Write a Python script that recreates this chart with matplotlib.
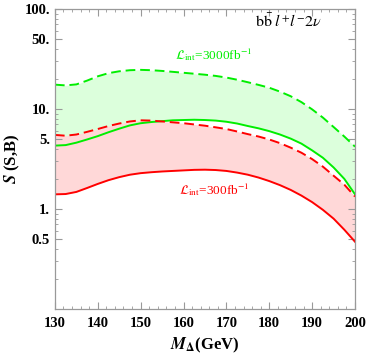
import numpy as np
import matplotlib
matplotlib.use('Agg')
import matplotlib.pyplot as plt
from matplotlib.ticker import FixedLocator, FixedFormatter, LogLocator, MultipleLocator, NullFormatter

plt.rcParams['font.family'] = ['Liberation Serif', 'DejaVu Serif']
plt.rcParams['mathtext.fontset'] = 'stix'

# M_Delta (GeV)
mass = [130, 132.5, 135, 137.5, 140, 142.5, 145, 147.5, 150, 152.5, 155, 157.5, 160, 162.5,
        165, 167.5, 170, 172.5, 175, 177.5, 180, 182.5, 185, 187.5, 190, 192.5, 195, 197.5, 200]

# significance curves
green_dashed = [17.5, 17.2, 17.6, 19.2, 21.2, 22.8, 23.8, 24.4, 24.6, 24.4, 24.0, 23.5, 23.0, 22.5,
                22.0, 21.4, 20.6, 19.6, 18.5, 17.4, 16.3, 14.9, 13.4, 11.7, 9.9, 8.2, 6.6, 5.3, 4.2]
green_solid = [4.3, 4.35, 4.6, 4.95, 5.35, 5.85, 6.35, 6.85, 7.2, 7.4, 7.55, 7.7, 7.75, 7.8,
               7.75, 7.65, 7.45, 7.15, 6.75, 6.4, 6.0, 5.55, 5.05, 4.5, 3.85, 3.25, 2.6, 2.0, 1.4]
red_dashed = [5.5, 5.4, 5.55, 5.9, 6.3, 6.75, 7.15, 7.5, 7.7, 7.65, 7.5, 7.35, 7.2, 7.0,
              6.8, 6.55, 6.3, 5.95, 5.6, 5.3, 4.95, 4.55, 4.1, 3.65, 3.15, 2.65, 2.15, 1.75, 1.33]
red_solid = [1.40, 1.41, 1.48, 1.62, 1.78, 1.94, 2.08, 2.20, 2.28, 2.33, 2.37, 2.40, 2.43, 2.46,
             2.47, 2.45, 2.40, 2.31, 2.20, 2.06, 1.90, 1.73, 1.55, 1.36, 1.17, 0.98, 0.80, 0.62, 0.47]

yticks = [0.5, 1, 5, 10, 50, 100]
ytick_labels = ['0.5', '1.', '5.', '10.', '50.', '100.']
xticks = [130, 140, 150, 160, 170, 180, 190, 200]

GREEN = '#00ee00'
RED = '#ff0000'

fig = plt.figure(figsize=(3.66, 3.58), dpi=100)
ax = fig.add_axes([0.150, 0.137, 0.820, 0.838])

ax.fill_between(mass, green_solid, green_dashed, color='#dcffdc', lw=0)
ax.fill_between(mass, red_solid, red_dashed, color='#ffd8d8', lw=0)

ax.plot(mass, green_dashed, color=GREEN, lw=1.4, dashes=(5, 2.5))
ax.plot(mass, green_solid, color=GREEN, lw=1.4)
ax.plot(mass, red_dashed, color=RED, lw=1.4, dashes=(5, 2.5))
ax.plot(mass, red_solid, color=RED, lw=1.4)

ax.set_yscale('log')
ax.set_xlim(130, 200)
ax.set_ylim(0.1, 100)

ax.yaxis.set_major_locator(FixedLocator(yticks))
ax.yaxis.set_major_formatter(FixedFormatter(ytick_labels))
ax.yaxis.set_minor_locator(LogLocator(base=10, subs=np.arange(1, 10)))
ax.yaxis.set_minor_formatter(NullFormatter())
ax.xaxis.set_major_locator(FixedLocator(xticks))
ax.xaxis.set_minor_locator(MultipleLocator(2))

for s in ax.spines.values():
    s.set_color('#999999')
    s.set_linewidth(0.9)
ax.tick_params(which='both', direction='in', top=True, right=True, color='#999999')
ax.tick_params(which='major', length=5, width=0.8, labelsize=10.5)
ax.tick_params(axis='x', which='major', pad=6)
ax.tick_params(which='minor', length=2.5, width=0.6)
for lab in ax.get_xticklabels() + ax.get_yticklabels():
    lab.set_fontweight('bold')

ax.set_xlabel(r'$\mathbfit{M}_{\mathbf{\Delta}}$(GeV)', fontsize=12, fontweight='bold', labelpad=4)
ax.set_ylabel(r'$\mathbfit{S}$ (S,B)', fontsize=12, fontweight='bold', labelpad=2)

ax.text(0.89, 0.955, r'$\mathrm{b}\bar{\mathrm{b}}\ l^{+}l^{-}2\nu$', transform=ax.transAxes,
        ha='right', va='center', fontsize=11.5)
ax.text(0.53, 0.847, r'$\mathcal{L}_{\rm int}$=3000fb$^{-1}$', transform=ax.transAxes,
        ha='center', va='center', fontsize=9.5, color=GREEN)
ax.text(0.53, 0.397, r'$\mathcal{L}_{\rm int}$=300fb$^{-1}$', transform=ax.transAxes,
        ha='center', va='center', fontsize=9.5, color=RED)

fig.savefig('out.png', dpi=100)
